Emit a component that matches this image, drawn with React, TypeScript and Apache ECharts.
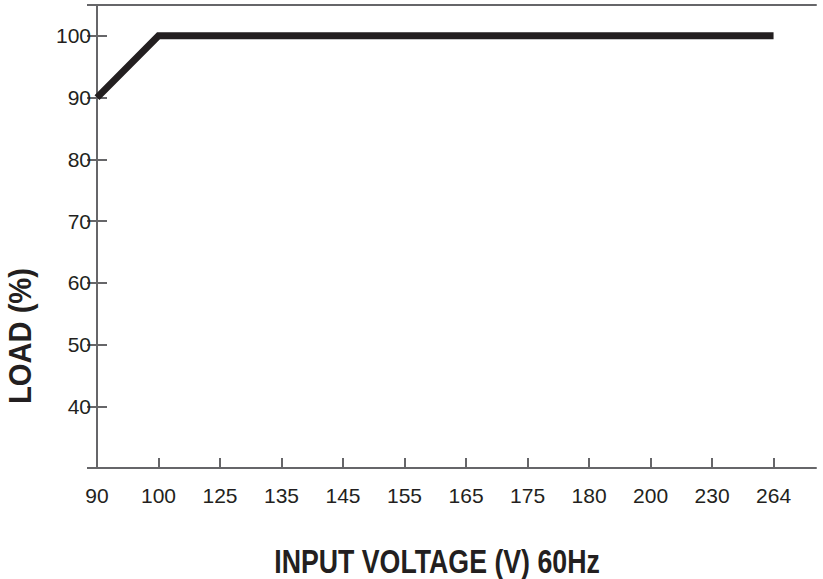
import React, { useEffect, useRef } from "react";
import * as echarts from "echarts";

// input voltage categories (evenly spaced on the chart)
const voltages = ["90", "100", "125", "135", "145", "155", "165", "175", "180", "200", "230", "264"];
// load (%) at each voltage
const loads = [90, 100, 100, 100, 100, 100, 100, 100, 100, 100, 100, 100];
const yTicks = [40, 50, 60, 70, 80, 90, 100];

const FONT = '"Liberation Sans Narrow", "Arial Narrow", "Liberation Sans", Arial, sans-serif';
const AXIS_COLOR = "#666669";

const App = () => {
    const chartRef = useRef(null);

    useEffect(() => {
        if (!chartRef.current) return;
        const chart = echarts.init(chartRef.current, null, { renderer: "svg" });

        const tickLabel = {
            fontFamily: FONT,
            fontSize: 21,
            color: "#231f20",
        };

        const option = {
            animation: false,
            grid: { left: 97, top: 5, right: 7, bottom: 111, containLabel: false },
            xAxis: [
                {
                    type: "value",
                    min: 0,
                    max: 11.69,
                    interval: 1,
                    axisLine: { show: true, lineStyle: { color: AXIS_COLOR, width: 2 } },
                    axisTick: { show: true, inside: true, length: 10, lineStyle: { color: AXIS_COLOR, width: 2 } },
                    axisLabel: {
                        ...tickLabel,
                        margin: 17,
                        showMaxLabel: false,
                        formatter: (v: number) =>
                            Number.isInteger(v) && voltages[v] !== undefined ? voltages[v] : "",
                    },
                    splitLine: { show: false },
                },
                {
                    type: "value",
                    position: "top",
                    min: 0,
                    max: 11.69,
                    axisLine: { show: true, lineStyle: { color: AXIS_COLOR, width: 2 } },
                    axisTick: { show: false },
                    axisLabel: { show: false },
                    splitLine: { show: false },
                },
            ],
            yAxis: [
                {
                    type: "value",
                    min: 30,
                    max: 105,
                    interval: 10,
                    axisLine: { show: true, lineStyle: { color: AXIS_COLOR, width: 2 } },
                    axisTick: { show: true, inside: true, length: 10, lineStyle: { color: AXIS_COLOR, width: 2 } },
                    axisLabel: {
                        ...tickLabel,
                        margin: 6,
                        formatter: (v: number) => (yTicks.includes(v) ? String(v) : ""),
                    },
                    splitLine: { show: false },
                },
                {
                    type: "value",
                    position: "right",
                    min: 30,
                    max: 105,
                    interval: 10,
                    axisLine: { show: true, lineStyle: { color: AXIS_COLOR, width: 2 } },
                    axisTick: { show: true, inside: true, length: 10, lineStyle: { color: AXIS_COLOR, width: 2 } },
                    axisLabel: { show: false },
                    splitLine: { show: false },
                },
            ],
            graphic: [
                {
                    type: "text",
                    x: 437,
                    y: 561,
                    scaleX: 0.81,
                    style: {
                        text: "INPUT VOLTAGE (V) 60Hz",
                        fontFamily: FONT,
                        fontWeight: "bold",
                        fontSize: 33,
                        fill: "#231f20",
                        align: "center",
                        verticalAlign: "middle",
                    },
                },
                {
                    type: "text",
                    x: 20,
                    y: 336,
                    rotation: Math.PI / 2,
                    scaleX: 0.94,
                    style: {
                        text: "LOAD (%)",
                        fontFamily: FONT,
                        fontWeight: "bold",
                        fontSize: 31,
                        fill: "#231f20",
                        align: "center",
                        verticalAlign: "middle",
                    },
                },
            ],
            series: [
                {
                    type: "line",
                    data: loads.map((v, i) => [i, v]),
                    showSymbol: false,
                    symbol: "none",
                    lineStyle: { color: "#231f20", width: 7, cap: "butt", join: "miter" },
                },
            ],
        };

        chart.setOption(option);
        return () => chart.dispose();
    }, []);

    return (
        <div
            ref={chartRef}
            style={{ position: "fixed", left: 0, top: 0, width: "823px", height: "579px", background: "#fff" }}
        />
    );
};

export default App;
